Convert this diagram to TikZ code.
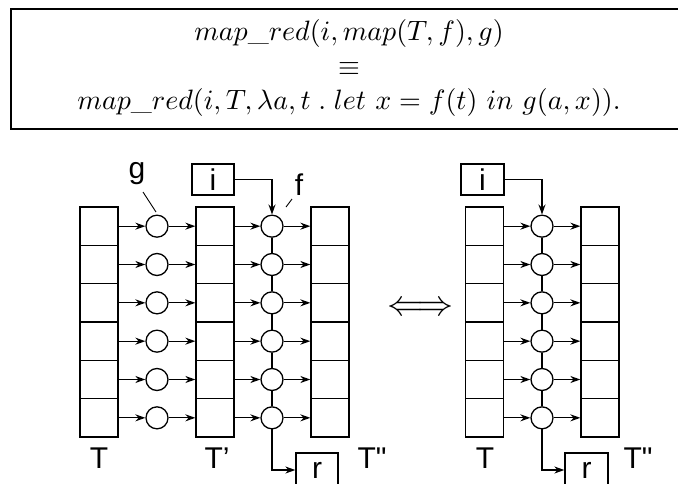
\documentclass[tikz,border=0pt]{standalone}
\usepackage{fontspec}
\newfontfamily\labfont{Liberation Sans}[Ligatures=TeXOff]
\usetikzlibrary{arrows.meta}

\begin{document}
\begin{tikzpicture}[x=1pt, y=-1pt, line width=1.3pt,
  cell/.style={draw, minimum width=38pt, minimum height=38.33pt, inner sep=0pt},
  fun/.style={draw, circle, minimum size=22pt, inner sep=0pt},
  val/.style={draw, minimum width=42pt, minimum height=31pt, inner sep=0pt, font=\labfont\fontsize{30}{32}\selectfont},
  lab/.style={inner sep=0pt, font=\labfont\fontsize{30}{32}\selectfont},
  law/.style={anchor=base, inner sep=0pt, scale=2.8},
  arrow/.style={-{Stealth[length=10pt,width=7pt]}}
]
\useasboundingbox (0,0) rectangle (678,483);

% the law
\node[draw, line width=1.4pt, minimum width=676pt, minimum height=120pt] (frame) at (349,69) {};
\node[law] (law1) at (349,40.5) {$map\_red(i, map(T, f), g)$};
\node[law] (law2) at (349,75) {$\equiv$};
\node[law] (law3) at (349,109) {$map\_red(i, T, \lambda a, t\;.\;let\ x = f(t)\ in\ g(a, x)).$};

% left side: map, then map_red
\foreach \k in {1,...,6} {
  \node[cell] (ta-\k) at (99,{207+38.333*(\k-0.5)}) {};
  \node[fun] (g-\k) at (157,{207+38.333*(\k-0.5)}) {};
  \node[cell] (tb-\k) at (215,{207+38.333*(\k-0.5)}) {};
  \node[fun] (f-\k) at (272,{207+38.333*(\k-0.5)}) {};
  \node[cell] (tc-\k) at (330,{207+38.333*(\k-0.5)}) {};
  \draw[arrow] (ta-\k) -- (g-\k);
  \draw[arrow] (g-\k) -- (tb-\k);
  \draw[arrow] (tb-\k) -- (f-\k);
  \draw[arrow] (f-\k) -- (tc-\k);
}
\foreach \k [count=\n from 2] in {1,...,5}
  \draw (f-\k) -- (f-\n);

\node[val] (i1) at (213,179.5) {i};
\node[val, minimum height=34pt] (r1) at (317,470) {r};
\draw[arrow] (i1) -| (f-1);
\draw[arrow] (f-6) |- (r1);

\node[lab] (gl) at (137,174) {g};
\node[lab] (fl) at (299,184.5) {f};
\coordinate (gp1) at (143,192);
\coordinate (gp2) at (156,212);
\coordinate (fp1) at (292,199);
\coordinate (fp2) at (286,207);
\draw[line width=0.9pt] (gp1) -- (gp2);
\draw[line width=0.9pt] (fp1) -- (fp2);

\node[lab] (tal) at (99,458) {T};
\node[lab] (tbl) at (217,458) {T’};
\node[lab] (tcl) at (372,458) {T"};

\node[scale=3.6] (equiv) at (420,309) {$\Longleftrightarrow$};

% right side: one map_red
\foreach \k in {1,...,6} {
  \node[cell] (td-\k) at (484.5,{207+38.333*(\k-0.5)}) {};
  \node[fun] (h-\k) at (542,{207+38.333*(\k-0.5)}) {};
  \node[cell] (te-\k) at (600,{207+38.333*(\k-0.5)}) {};
  \draw[arrow] (td-\k) -- (h-\k);
  \draw[arrow] (h-\k) -- (te-\k);
}
\foreach \k [count=\n from 2] in {1,...,5}
  \draw (h-\k) -- (h-\n);

\node[val, minimum width=43pt] (i2) at (482.5,179.5) {i};
\node[val, minimum width=43pt, minimum height=34pt] (r2) at (586.5,470) {r};
\draw[arrow] (i2) -| (h-1);
\draw[arrow] (h-6) |- (r2);

\node[lab] (tdl) at (485,458) {T};
\node[lab] (tel) at (638,458) {T"};
\end{tikzpicture}
\end{document}
